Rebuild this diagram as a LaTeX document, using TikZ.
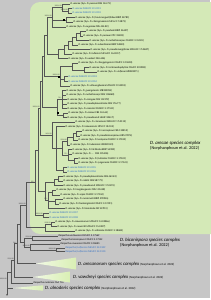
\documentclass[tikz,border=0pt]{standalone}
\usepackage{fontspec}
\setmainfont{Carlito}
\usetikzlibrary{arrows.meta}
\definecolor{bggray}{HTML}{C6C6C6}
\definecolor{clgreen}{HTML}{D4E9B7}
\definecolor{trifill}{HTML}{D9EFB4}
\definecolor{treeline}{HTML}{555555}
\definecolor{acc}{HTML}{2F6DC4}
\begin{document}
\begin{tikzpicture}[x=1pt,y=-1pt,
 leaf/.style={anchor=west,inner sep=0.3pt,font=\fontsize{2.6}{3}\selectfont,text=black},
 blueleaf/.style={leaf,text=acc},
 br/.style={draw=treeline,line width=0.35pt},
 bs/.style={font=\fontsize{1.9}{2}\selectfont,inner sep=0.2pt,anchor=south east,text=black!80},
 clade/.style={font=\fontsize{4.8}{5.6}\selectfont,align=left,anchor=west,inner sep=0pt},
 small/.style={font=\fontsize{3}{3.5}\selectfont},
 marker/.style={fill=black,inner sep=0pt,minimum width=1.6pt,minimum height=1.3pt},
 tri/.style={left color=trifill!35,right color=trifill}]
\useasboundingbox (0,0) rectangle (210,300);
\fill[bggray] (0,0) rectangle (210,298);
\fill[white] (0,298) rectangle (210,300);
\fill[clgreen,rounded corners=10pt] (30,2) rectangle (222,234);

% ---------- leaves inside the complex ----------
\node[leaf] (a1) at (70,4) {\textit{D. arecae} (Syn. \textit{D. pascoei} CBS 144.73)};
\node[blueleaf] (a2) at (72,8.5) {\textit{D. arecae} ZHKUCC 22-0101};
\node[blueleaf] (a3) at (72,13.1) {\textit{D. arecae} ZHKUCC 22-0102};
\node[leaf] (a4) at (75,17.6) {\textit{D. arecae} (Syn. \textit{D. fraxini-angustifoliae} BRIP 54781)};
\node[leaf] (a5) at (73,22.2) {\textit{D. arecae} (Syn. \textit{D. chiangmaiensis} MFLU 17-2873)};
\node[leaf] (a6) at (66,26.7) {\textit{D. arecae} (Syn. \textit{D. eugeniae} CBS 444.82)};
\node[leaf] (b1) at (86,31.2) {\textit{D. arecae} (Syn. \textit{D. pandanii} BRIP 54637)};
\node[leaf] (b2) at (83,35.8) {\textit{D. arecae} (Syn. \textit{D. perseae} CPC 33438)};
\node[leaf] (b3) at (89,40.3) {\textit{D. arecae} (Syn. \textit{D. mahothocarpus} CGMCC 3.15181)};
\node[leaf] (b4) at (78,44.9) {\textit{D. arecae} (Syn. \textit{D. subordinaria} BRIP 54840)};
\node[leaf] (b5) at (90,49.4) {\textit{D. arecae} (Syn. \textit{D. pseudomangiferae} MFLUCC 17-0687)};
\node[leaf] (b6) at (72,53.9) {\textit{D. arecae} (Syn. \textit{D. tulliensis} MFLUCC 16-0217)};
\node[leaf] (b7) at (68,58.5) {\textit{D. arecae} (Syn. \textit{D. ueckeri} FAU 656)};
\node[leaf] (c1) at (78,63) {\textit{D. arecae} (Syn. \textit{D. chongqingensis} CGMCC 3.19603)};
\node[leaf] (c2) at (89,67.6) {\textit{D. arecae} (Syn. \textit{D. tectonendophytica} CNUCC 201908)};
\node[leaf] (c3) at (97,72.1) {\textit{D. arecae} (Syn. \textit{D. viniferae} JZB320071)};
\node[blueleaf] (c4) at (68,76.6) {\textit{D. arecae} ZHKUCC 22-0103};
\node[blueleaf] (c5) at (68,81.2) {\textit{D. arecae} ZHKUCC 22-0104};
\node[leaf] (c6) at (70,85.7) {\textit{D. arecae} (Syn. \textit{D. xishuangbanica} MFLUCC 19-0018)};
\node[leaf] (d1) at (66,90.3) {\textit{D. arecae} (Syn. \textit{D. guangxiensis} JZB320094)};
\node[leaf] (d2) at (66,94.8) {\textit{D. arecae} (Syn. \textit{D. mahothocarpi} CBS 136068)};
\node[leaf] (d3) at (67,99.3) {\textit{D. arecae} (Syn. \textit{D. arengae} CBS 114979)};
\node[leaf] (d4) at (67,103.9) {\textit{D. arecae} (Syn. \textit{D. pseudophoenicicola} CBS 176.77)};
\node[leaf] (d5) at (67,108.4) {\textit{D. arecae} (Syn. \textit{D. oraccinii} CGMCC 3.17531)};
\node[leaf] (d6) at (68,113) {\textit{D. arecae} (Syn. \textit{D. arecae} CBS 161.64)};
\node[leaf] (d7) at (67,117.5) {\textit{D. arecae} (Syn. \textit{D. pseudooculi} HHUF 30617)};
\node[leaf] (e1) at (75,122) {\textit{D. arecae} (Syn. \textit{D. cinnamomi} MFLUCC 17-0512)};
\node[leaf] (e2) at (65,126.6) {\textit{D. arecae} (Syn. \textit{D. taiwanensis} NTUCC 18-105)};
\node[leaf] (e3) at (82,131.1) {\textit{D. arecae} (Syn. \textit{D. inconspicua} CBS 133813)};
\node[leaf] (e4) at (80,135.7) {\textit{D. arecae} (Syn. \textit{D. pseudoinconspicua} URM 7874)};
\node[leaf] (e5) at (78,140.2) {\textit{D. arecae} (Syn. \textit{D. lenispora} CGMCC 3.17530)};
\node[leaf] (e6) at (70,144.7) {\textit{D. arecae} (Syn. \textit{D. hubeiensis} JZB320123)};
\node[leaf] (e7) at (72,149.3) {\textit{D. arecae} (Syn. \textit{D. litchiicola} BRIP 54900)};
\node[leaf] (e8) at (72,153.8) {\textit{D. arecae} (Syn. \textit{D. ... } CBS 135436)};
\node[leaf] (e9) at (78,158.4) {\textit{D. arecae} (Syn. \textit{D. fulvicolor} CGMCC 3.17501)};
\node[leaf] (e10) at (78,162.9) {\textit{D. arecae} (Syn. \textit{D. syngenesia} CGMCC 3.17541)};
\node[blueleaf] (e11) at (67,167.4) {\textit{D. arecae} ZHKUCC 22-0105};
\node[blueleaf] (e12) at (67,172) {\textit{D. arecae} ZHKUCC 22-0106};
\node[leaf] (f1) at (63,176.5) {\textit{D. arecae} (Syn. \textit{D. pseudophoenicicola} CBS 462.69)};
\node[leaf] (f2) at (63,181.1) {\textit{D. arecae} (Syn. \textit{D. nobilis} CBS 587.79)};
\node[leaf] (f3) at (63,185.6) {\textit{D. arecae} (Syn. \textit{D. pseudooculi} MFLUCC 17-0291)};
\node[leaf] (f4) at (56,190.1) {\textit{D. arecae} (Syn. \textit{D. hongkongensis} CBS 115448)};
\node[leaf] (f5) at (60,194.7) {\textit{D. arecae} (Syn. \textit{D. sojae} CGMCC 3.17534)};
\node[leaf] (f6) at (63,199.2) {\textit{D. arecae} (Syn. \textit{D. masirevicii} BRIP 57892a)};
\node[leaf] (f7) at (59,203.8) {\textit{D. arecae} (Syn. \textit{D. thunbergiicola} CGMCC 3.17491)};
\node[leaf] (f8) at (65,208.3) {\textit{D. arecae} (Syn. \textit{D. limonicola} MF 4CP13)};
\node[blueleaf] (g1) at (49,212.8) {\textit{D. arecae} ZHKUCC 22-0107};
\node[blueleaf] (g2) at (49,217.4) {\textit{D. arecae} ZHKUCC 22-0108};
\node[leaf] (g3) at (55,221.9) {\textit{D. arecae} (Syn. \textit{D. araucanorum} MFLUCC 14-0386a)};
\node[leaf] (g4) at (57,226.5) {\textit{D. arecae} (Syn. \textit{D. neoarctii} MFLUCC 15-0397)};
\node[leaf] (g5) at (75,231) {\textit{D. arecae} (Syn. \textit{D. salinicola} CGMCC 3.18685)};
% ---------- biconispora leaves ----------
\node[leaf] (h1) at (58,236) {\textit{Diaporthe unshiuensis} CGMCC 3.17569};
\node[leaf] (h2) at (61,240) {\textit{Diaporthe biconispora} CGMCC 3.17252};
\node[leaf] (h3) at (60,244) {\textit{Diaporthe ravennica} CGMCC 3.18681};
\node[blueleaf] (h4) at (65,248) {\textit{Diaporthe fusiformis} ZHKUCC 22-0109};
\node[blueleaf] (h5) at (65,251.5) {\textit{Diaporthe fusiformis} ZHKUCC 22-0110};
\node[leaf] (i1) at (33,283) {\textit{Diaporthe malorum} CAA 734};

% ---------- internal nodes ----------
\coordinate (nA2) at (68,10.8);
\coordinate (nA1) at (62,7.4);
\coordinate (nA3) at (66,19.9);
\coordinate (nA4) at (52,17);
\coordinate (nB1) at (80,33.5);
\coordinate (nB2) at (76,36.9);
\coordinate (nB3) at (72,40.9);
\coordinate (nB4) at (68,45.2);
\coordinate (nB5) at (64,49.5);
\coordinate (nB6) at (58,54);
\coordinate (nT1) at (47,35.5);
\coordinate (nC1) at (84,69.8);
\coordinate (nC2) at (72,66.4);
\coordinate (nC3) at (64,78.9);
\coordinate (nC4) at (60,76);
\coordinate (nT2) at (44,55.7);
\coordinate (nD1) at (62,99.3);
\coordinate (nD2) at (63,115.2);
\coordinate (nD3) at (57,107.3);
\coordinate (nT3) at (42,81.5);
\coordinate (nE1) at (76,133.4);
\coordinate (nE2) at (73,136.8);
\coordinate (nE3) at (67,140.8);
\coordinate (nE4) at (74,160.6);
\coordinate (nE5) at (68,155);
\coordinate (nE6) at (62,147.9);
\coordinate (nE7) at (63,169.7);
\coordinate (nE8) at (56,148.2);
\coordinate (nE9) at (52,135.1);
\coordinate (nT4) at (40,108.3);
\coordinate (nF0) at (58,178.8);
\coordinate (nF4) at (54,182.2);
\coordinate (nF1) at (52,192.4);
\coordinate (nF2) at (55,201.5);
\coordinate (nF3) at (48,200.4);
\coordinate (nF5) at (45,191.3);
\coordinate (nT5) at (38,149.8);
\coordinate (nG1) at (43,215.1);
\coordinate (nT6) at (35,182.5);
\coordinate (nG2) at (51,224.2);
\coordinate (nG3) at (45,227.6);
\coordinate (nGreen) at (26,205);
\coordinate (nH1) at (32,238);
\coordinate (nH2) at (56,249.8);
\coordinate (nH3) at (30,246.9);
\coordinate (nH4) at (24,242.5);
\coordinate (nX) at (20,223.7);
\coordinate (t1) at (36,263.5);
\coordinate (nY) at (17,243.6);
\coordinate (t2) at (33,277);
\coordinate (nZ) at (14,260.3);
\coordinate (nZ2) at (11,271.7);
\coordinate (t3) at (13,288);
\coordinate (root) at (7,279.9);
\coordinate (outg) at (7,296);

% ---------- collapsed clades ----------
\shade[tri] (t1) -- (76,257.5) -- (76,269.5) -- cycle;
\shade[tri] (t2) -- (70,271.5) -- (70,282.5) -- cycle;
\shade[tri] (t3) -- (43,285.3) -- (43,290.7) -- cycle;

% ---------- branches ----------
\foreach \p/\c in {nA2/a2,nA2/a3,nA1/a1,nA3/a4,nA3/a5,nA4/a6,
  nB1/b1,nB1/b2,nB2/b3,nB3/b4,nB4/b5,nB5/b6,nB6/b7,
  nC1/c2,nC1/c3,nC2/c1,nC3/c4,nC3/c5,nC4/c6,
  nD1/d1,nD1/d2,nD1/d3,nD1/d4,nD1/d5,nD2/d6,nD2/d7,
  nE9/e1,nE8/e2,nE1/e3,nE1/e4,nE2/e5,nE3/e6,nE5/e7,nE5/e8,nE4/e9,nE4/e10,nE7/e11,nE7/e12,
  nF0/f1,nF0/f2,nF4/f3,nF1/f4,nF1/f5,nF2/f6,nF2/f7,nF3/f8,
  nG1/g1,nG1/g2,nG2/g3,nG2/g4,nG3/g5,
  nH1/h1,nH1/h2,nH3/h3,nH2/h4,nH2/h5,nZ2/i1}
  {\draw[br] (\p) |- (\c.west);}
\foreach \p/\c in {nA1/nA2,nA4/nA1,nA4/nA3,nB2/nB1,nB3/nB2,nB4/nB3,nB5/nB4,nB6/nB5,
  nT1/nA4,nT1/nB6,nC2/nC1,nC4/nC2,nC4/nC3,nT2/nT1,nT2/nC4,nD3/nD1,nD3/nD2,
  nT3/nT2,nT3/nD3,nE2/nE1,nE3/nE2,nE5/nE4,nE6/nE3,nE6/nE5,nE8/nE6,nE8/nE7,nE9/nE8,
  nT4/nT3,nT4/nE9,nF4/nF0,nF3/nF1,nF3/nF2,nF5/nF4,nF5/nF3,nT5/nT4,nT5/nF5,
  nT6/nT5,nT6/nG1,nG3/nG2,nGreen/nT6,nGreen/nG3,nH3/nH2,nH4/nH1,nH4/nH3,
  nX/nGreen,nX/nH4,nY/nX,nY/t1,nZ/nY,nZ/t2,nZ2/nZ,root/nZ2,root/t3}
  {\draw[br] (\p) |- (\c);}
\draw[br,-{Stealth[length=2pt,width=1.6pt]}] (root) -- (outg);

% ---------- support values ----------
\node[bs] (s1) at (nA1) {100/1.00};
\node[bs] (s2) at (nA2) {100/1.00};
\node[bs] (s3) at (nA4) {100/1.00};
\node[bs] (s4) at (nC4) {100/1.00};
\node[bs] (s5) at (nD1) {76/-};
\node[bs] (s6) at (nE3) {99/1.00};
\node[bs] (s7) at (nE5) {72/-};
\node[bs] (s8) at (nE9) {96/1.00};
\node[bs] (s9) at (nT6) {85/-};
\node[bs] (s10) at (nF3) {93/-};
\node[bs] (s11) at (nG1) {100/1.00};
\node[bs] (s12) at (nG2) {99/0.99};
\node[bs] (s13) at (nGreen) {100/1.00};
\node[bs] (s14) at (nH1) {99/1.00};
\node[bs] (s15) at (nH2) {100/1.00};
\node[bs] (s16) at (nH3) {100/1.00};
\node[bs] (s17) at (nY) {96/-};
\node[bs] (s18) at (nZ) {99/1.00};
\node[bs] (s19) at (root) {100/1.00};
\node[bs] (s20) at (nT4) {100/1.00};
\node[marker] (m1) at (64,19.9) {};
\node[marker] (m2) at (59,77) {};
\node[marker] (m3) at (58,113) {};

% ---------- clade labels ----------
\node[clade] (cl1) at (150,145.5) {\textit{D. arecae species complex}\\[-0.6pt]{\fontsize{4.3}{5}\selectfont(Norphanphoun et al. 2022)}};
\node[clade] (cl2) at (120,242.5) {\textit{D. biconispora species complex}\\[-0.6pt]{\fontsize{4.3}{5}\selectfont(Norphanphoun et al. 2022)}};
\node[clade] (cl3) at (78,264) {\textit{D. arecanorum species complex} {\small\fontsize{3}{3.5}\selectfont(Norphanphoun et al. 2022)}};
\node[clade] (cl4) at (73,277.5) {\textit{D. vawdreyi species complex} {\fontsize{3}{3.5}\selectfont(Norphanphoun et al. 2022)}};
\node[clade] (cl5) at (45,288.5) {\textit{D. alnoderis species complex} {\fontsize{3}{3.5}\selectfont(Norphanphoun et al. 2022)}};
\end{tikzpicture}
\end{document}
